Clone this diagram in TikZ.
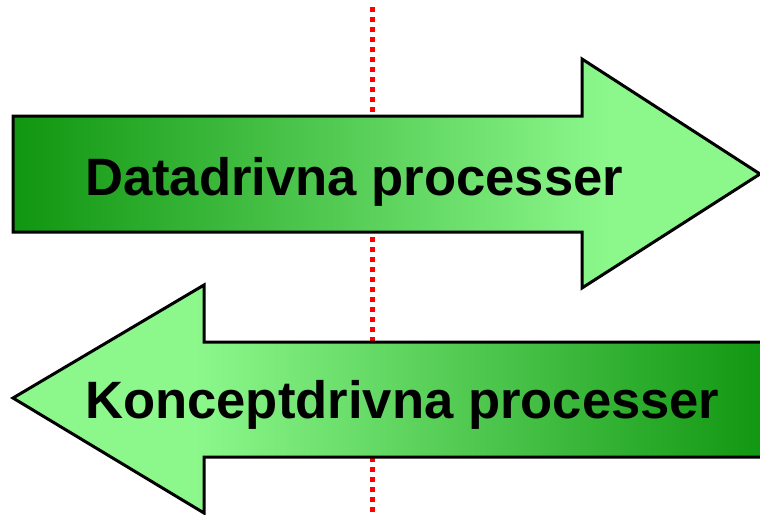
\documentclass[tikz,border=0pt]{standalone}
\usepackage{fontspec}
\setmainfont{Liberation Sans}
\definecolor{dg}{RGB}{16,150,16}
\definecolor{lg}{RGB}{140,248,140}
\pgfdeclarehorizontalshading{arrR}{100bp}{color(0bp)=(dg); color(25bp)=(dg); color(65bp)=(lg); color(100bp)=(lg)}
\pgfdeclarehorizontalshading{arrL}{100bp}{color(0bp)=(lg); color(37bp)=(lg); color(75bp)=(dg); color(100bp)=(dg)}
\tikzset{
  bigarrow/.style={draw=black, line width=3pt, line join=miter},
  label/.style={inner sep=0pt, anchor=base west, font=\fontsize{52.6}{56}\selectfont\bfseries},
  divider/.style={draw=red, line width=5pt, dash pattern=on 5pt off 5pt}
}
\begin{document}
\begin{tikzpicture}[x=1pt,y=-1pt]
\useasboundingbox (0,0) rectangle (760,514);
\clip (0,0) rectangle (760,514);
\coordinate (dtop) at (372,7);
\coordinate (dbot) at (372,520);
\draw[divider] (dtop) -- (dbot);
% top arrow (right)
\path[bigarrow, shading=arrR]
  (13,116) -- (582,116) -- (582,59) -- (760,174) -- (582,288) -- (582,232) -- (13,232) -- cycle;
% bottom arrow (left)
\path[bigarrow, shading=arrL]
  (770,342) -- (204,342) -- (204,285) -- (13,398) -- (204,513) -- (204,457) -- (770,457) -- cycle;
\node[label] (t1) at (85,195) {Datadrivna processer};
\node[label] (t2) at (85,418) {Konceptdrivna processer};
\end{tikzpicture}
\end{document}
